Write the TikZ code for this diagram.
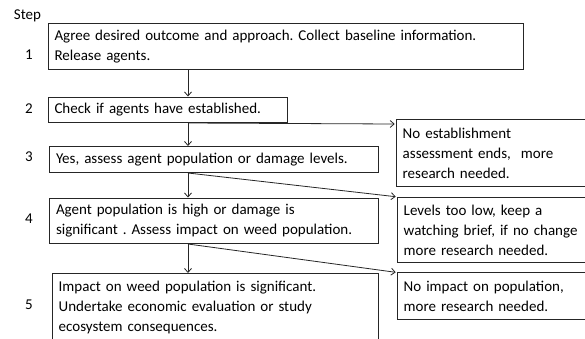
\documentclass[tikz,border=0pt]{standalone}
\usepackage{fontspec}
\setmainfont{Carlito}
\usepackage{tikz}
\usetikzlibrary{arrows.meta, calc}

\hyphenpenalty=10000
\frenchspacing

\tikzset{
  stepbox/.style={draw=black!85, line width=1pt, anchor=north west, align=left,
    inner xsep=6.5pt, inner ysep=0pt, font=\fontsize{15}{20}\selectfont},
  steplabel/.style={font=\fontsize{15}{20}\selectfont},
  flow/.style={-{Straight Barb[length=4pt,width=7pt]}, line width=0.8pt, black!85}
}

\begin{document}
\begin{tikzpicture}[x=1pt, y=-1pt]
    \clip (0,0) rectangle (585,338);

    % Step numbers
    \node[steplabel] (head) at (27.5,16) {Step};
    \node[steplabel] (s1) at (29,55) {1};
    \node[steplabel] (s2) at (29,109) {2};
    \node[steplabel] (s3) at (29,157) {3};
    \node[steplabel] (s4) at (29,219) {4};
    \node[steplabel] (s5) at (29,305) {5};

    % Main steps
    \node[stepbox, text width=462.5pt, minimum height=46.5pt] (b1) at (47.5,22.5)
        {Agree desired outcome and approach. Collect baseline information.\\ Release agents.};
    \node[stepbox, text width=226.5pt, minimum height=25.5pt] (b2) at (47.5,96.5)
        {Check if agents have established.};
    \node[stepbox, text width=316pt, minimum height=26pt] (b3) at (49,146)
        {Yes, assess agent population or damage levels.};
    \node[stepbox, text width=316pt, minimum height=45.5pt] (b4) at (49,197.5)
        {Agent population is high or damage is\\ significant . Assess impact on weed population.};
    \node[stepbox, text width=313.3pt, inner ysep=7.5pt, text depth=50pt] (b5) at (51.7,273)
        {Impact on weed population is significant.\\ Undertake economic evaluation or study\\ ecosystem consequences.};

    % Side outcomes
    \node[stepbox, text width=220pt, minimum height=67pt] (r1) at (395.7,119)
        {No establishment\\ assessment ends,\ \ more\\ research needed.};
    \node[stepbox, text width=220pt, minimum height=65.6pt] (r2) at (396.7,196.7)
        {Levels too low, keep a\\ watching brief, if no change\\ more research needed.};
    \node[stepbox, text width=220pt, minimum height=46.7pt] (r3) at (396.7,272.3)
        {No impact on population,\\ more research needed.};

    % Draw arrows
    \coordinate (spine) at (188,0);
    \draw[flow] (b1.south -| spine) -- (b2.north -| spine);
    \draw[flow] (b2.south -| spine) -- (b3.north -| spine);
    \draw[flow] (b3.south -| spine) -- (b4.north -| spine);
    \draw[flow] (b4.south -| spine) -- (b5.north -| spine);
    \draw[flow] (b2.south -| spine) -- ($(r1.north west)+(-1,5)$);
    \draw[flow] (b3.south -| spine) -- ($(r2.north west)+(-1,0)$);
    \draw[flow] (b4.south -| spine) -- ($(r3.north west)+(-1,0)$);
\end{tikzpicture}
\end{document}
